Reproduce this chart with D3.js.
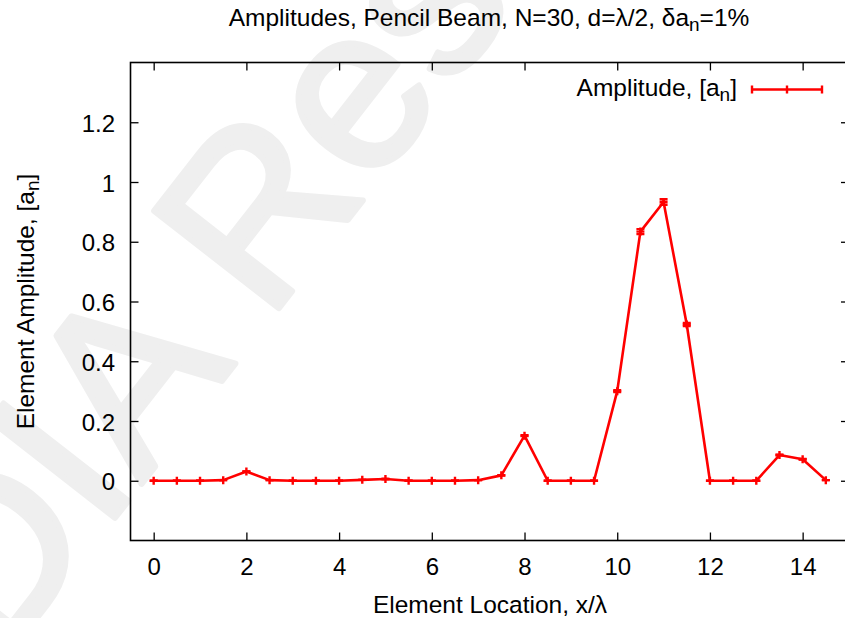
<!DOCTYPE html>
<html>
<head>
<meta charset="utf-8">
<script src="https://cdn.jsdelivr.net/npm/d3@7"></script>
<style>
  body { margin: 0; background: #fff; }
  svg { display: block; font-family: "Liberation Sans", Helvetica, Arial, sans-serif; }
</style>
</head>
<body>
<svg width="845" height="618" viewBox="0 0 845 618"></svg>
<script>
// input data: element positions (x/lambda) and amplitudes a_n
const positions = [0, 0.5, 1, 1.5, 2, 2.5, 3, 3.5, 4, 4.5, 5, 5.5, 6, 6.5, 7,
  7.5, 8, 8.5, 9, 9.5, 10, 10.5, 11, 11.5, 12, 12.5, 13, 13.5, 14, 14.5];
const amplitudes = [0, 0, 0, 0.002, 0.031, 0.002, 0, 0, 0, 0.003, 0.006, 0, 0, 0, 0.002,
  0.018, 0.151, 0, 0, 0, 0.30, 0.834, 0.933, 0.523, 0, 0, 0, 0.086, 0.072, 0.002];
// relative amplitude error, as given in the title (delta a_n = 1%)
const deltaA = 0.01;

const xTicks = [0, 2, 4, 6, 8, 10, 12, 14];
const yTicks = [0, 0.2, 0.4, 0.6, 0.8, 1, 1.2];
const xDomain = [-0.5, 15];
const yDomain = [-0.2, 1.4];

const svg = d3.select('svg');

// plot frame (right border falls just outside the picture)
const frame = { left: 130.5, right: 849, top: 62.5, bottom: 540.5 };
const red = '#ff0000';

const x = d3.scaleLinear().domain(xDomain).range([frame.left, frame.right]);
const y = d3.scaleLinear().domain(yDomain).range([frame.bottom, frame.top]);

// WATERMARK (light, rotated, mostly outside the picture)
svg.append('text')
  .attr('transform', 'translate(-268 1008) rotate(-52)')
  .attr('font-size', 230)
  .attr('fill', '#efefef')
  .attr('stroke', '#efefef')
  .attr('stroke-width', 6)
  .attr('stroke-linejoin', 'round')
  .text('ELEDIA Research');

// AXES
const fmt = d => (d === 0 ? '0' : String(d));

const gx = svg.append('g')
  .attr('transform', `translate(0 ${frame.bottom})`)
  .call(d3.axisBottom(x).tickValues(xTicks).tickFormat(fmt).tickSizeInner(-8).tickSizeOuter(0));
gx.selectAll('text').attr('y', 34.5).attr('dy', null);

const gxTop = svg.append('g')
  .attr('transform', `translate(0 ${frame.top})`)
  .call(d3.axisTop(x).tickValues(xTicks).tickFormat('').tickSizeInner(-8).tickSizeOuter(0));

const gy = svg.append('g')
  .attr('transform', `translate(${frame.left} 0)`)
  .call(d3.axisLeft(y).tickValues(yTicks).tickFormat(fmt).tickSizeInner(-8).tickSizeOuter(0));
gy.selectAll('text').attr('x', -15.5).attr('y', 9).attr('dy', null);

const gyRight = svg.append('g')
  .attr('transform', `translate(${frame.right} 0)`)
  .call(d3.axisRight(y).tickValues(yTicks).tickFormat('').tickSizeInner(-8).tickSizeOuter(0));

[gx, gxTop, gy, gyRight].forEach(g => {
  g.select('.domain').remove();
  g.selectAll('line').attr('stroke', '#000').attr('stroke-width', 1.3);
  g.selectAll('text')
    .attr('font-family', '"Liberation Sans", Helvetica, Arial, sans-serif')
    .attr('font-size', 24)
    .attr('fill', '#000');
});

svg.append('rect')
  .attr('x', frame.left)
  .attr('y', frame.top)
  .attr('width', frame.right - frame.left)
  .attr('height', frame.bottom - frame.top)
  .attr('fill', 'none')
  .attr('stroke', '#000')
  .attr('stroke-width', 1.6);

// LABELS
svg.append('text')
  .attr('x', 489)
  .attr('y', 26)
  .attr('text-anchor', 'middle')
  .attr('font-size', 24.5)
  .html('Amplitudes, Pencil Beam, N=30, d=λ/2, δa<tspan font-size="19" dy="5">n</tspan><tspan dy="-5">=1%</tspan>');

svg.append('text')
  .attr('x', 490)
  .attr('y', 613)
  .attr('text-anchor', 'middle')
  .attr('font-size', 24.5)
  .text('Element Location, x/λ');

svg.append('text')
  .attr('transform', `translate(34 ${(frame.top + frame.bottom) / 2}) rotate(-90)`)
  .attr('text-anchor', 'middle')
  .attr('font-size', 24.5)
  .html('Element Amplitude, [a<tspan font-size="19" dy="5">n</tspan><tspan dy="-5">]</tspan>');

// DATA LINE
const points = positions.map((p, i) => ({ x: p, a: amplitudes[i] }));

const line = d3.line()
  .x(d => x(d.x))
  .y(d => y(d.a));

svg.append('path')
  .datum(points)
  .attr('d', line)
  .attr('fill', 'none')
  .attr('stroke', red)
  .attr('stroke-width', 2.6)
  .attr('stroke-linejoin', 'round');

// error bars with caps and "+" markers
const cap = 4;
const marks = svg.append('g')
  .attr('stroke', red)
  .attr('stroke-width', 2.4)
  .attr('fill', 'none');

marks.selectAll('path.err')
  .data(points)
  .join('path')
  .attr('class', 'err')
  .attr('d', d => {
    const cx = x(d.x);
    const y0 = y(d.a - d.a * deltaA);
    const y1 = y(d.a + d.a * deltaA);
    return `M ${cx} ${y0} V ${y1} M ${cx - cap} ${y0} H ${cx + cap} M ${cx - cap} ${y1} H ${cx + cap}`;
  });

marks.selectAll('path.pt')
  .data(points)
  .join('path')
  .attr('class', 'pt')
  .attr('d', d => {
    const cx = x(d.x);
    const cy = y(d.a);
    return `M ${cx - cap} ${cy} H ${cx + cap} M ${cx} ${cy - cap} V ${cy + cap}`;
  });

// LEGEND
const legendY = 89.5;
svg.append('text')
  .attr('x', 737)
  .attr('y', 96)
  .attr('text-anchor', 'end')
  .attr('font-size', 24.5)
  .html('Amplitude, [a<tspan font-size="19" dy="5">n</tspan><tspan dy="-5">]</tspan>');

const legend = svg.append('g')
  .attr('stroke', red)
  .attr('stroke-width', 2.4)
  .attr('fill', 'none');
legend.append('path')
  .attr('d', `M 752 ${legendY} H 822 M 752 ${legendY - cap} V ${legendY + cap} M 822 ${legendY - cap} V ${legendY + cap}`);
legend.append('path')
  .attr('d', `M 787 ${legendY - cap} V ${legendY + cap}`);
</script>
</body>
</html>
